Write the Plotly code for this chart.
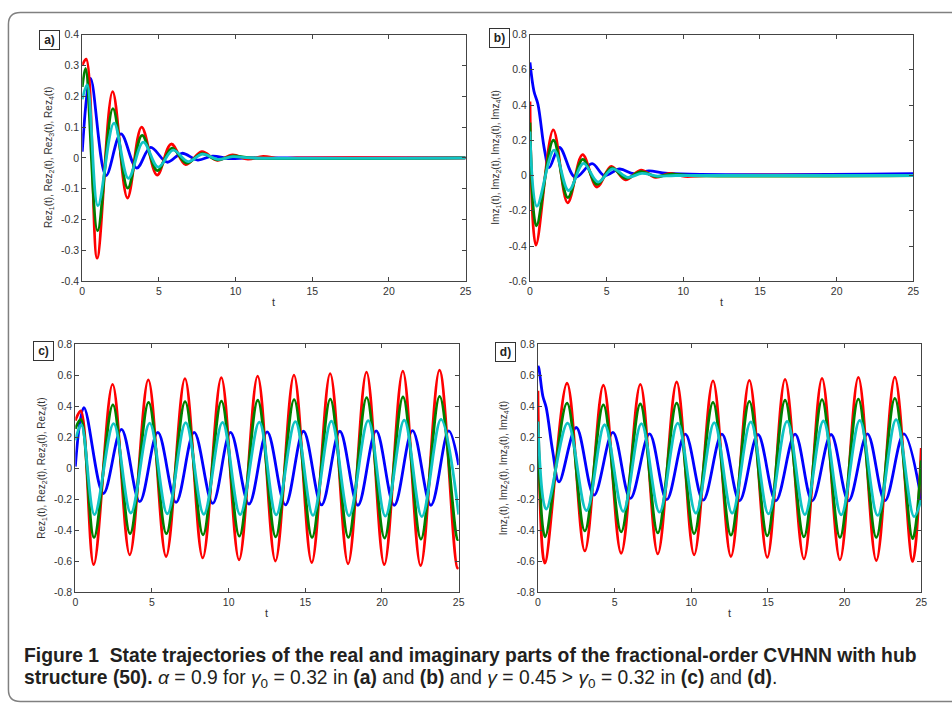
import plotly.graph_objects as go

W, H = 952, 713

# ---------------- data ----------------
# Panel a: Re z(t), gamma0 = 0.32
A_T_BLUE = [0, 0.54, 1.55, 2.52, 3.55, 4.46, 5.53, 6.5, 7.53, 8.5, 9.5, 11, 25]
A_BLUE = [0.02, 0.258, -0.057, 0.078, -0.033, 0.034, -0.014, 0.015, -0.007, 0.006, -0.002, 0, 0]
A_T_RED = [0, 0.26, 0.97, 1.98, 2.95, 3.87, 4.88, 5.8, 6.75, 7.8, 8.8, 9.8, 10.8, 11.8, 12.8, 14, 25]
A_RED = [0.30, 0.32, -0.325, 0.215, -0.13, 0.10, -0.056, 0.045, -0.022, 0.02, -0.008, 0.01, -0.004, 0.005, -0.002, 0, 0]
A_T_GREEN = [0, 0.22, 1.0, 2.0, 2.97, 3.9, 4.9, 5.85, 6.8, 7.8, 8.8, 9.8, 11, 25]
A_GREEN = [0.23, 0.29, -0.236, 0.16, -0.098, 0.073, -0.041, 0.032, -0.017, 0.014, -0.006, 0.006, 0, 0]
A_T_CYAN = [0, 0.32, 1.02, 2.07, 3.01, 3.98, 4.95, 5.92, 6.9, 7.85, 8.85, 9.8, 11, 25]
A_CYAN = [0.19, 0.237, -0.155, 0.113, -0.066, 0.051, -0.03, 0.025, -0.012, 0.012, -0.005, 0.004, 0, 0]

# Panel b: Im z(t), gamma0 = 0.32
B_T_BLUE = [0, 0.26, 0.52, 0.95, 1.25, 1.92, 2.95, 4.05, 4.85, 5.85, 6.77, 7.74, 9, 25]
B_BLUE = [0.642, 0.478, 0.404, 0.144, 0.045, 0.159, -0.01, 0.067, 0.0, 0.037, 0.01, 0.026, 0.012, 0.01]
B_T_RED = [0, 0.39, 1.52, 2.46, 3.43, 4.37, 5.3, 6.22, 7.24, 8.19, 9.14, 10.1, 11.5, 25]
B_RED = [0.42, -0.395, 0.259, -0.155, 0.118, -0.065, 0.052, -0.024, 0.03, -0.01, 0.012, -0.005, 0, 0]
B_T_GREEN = [0, 0.42, 1.53, 2.47, 3.44, 4.38, 5.32, 6.25, 7.25, 8.2, 9.2, 10.5, 25]
B_GREEN = [0.30, -0.285, 0.2, -0.125, 0.092, -0.05, 0.043, -0.016, 0.022, -0.006, 0.008, 0, 0]
B_T_CYAN = [0, 0.45, 1.57, 2.52, 3.49, 4.44, 5.39, 6.38, 7.3, 8.3, 9.5, 25]
B_CYAN = [0.25, -0.174, 0.144, -0.085, 0.069, -0.037, 0.038, -0.01, 0.012, -0.003, 0, 0]

# Panel c: Re z(t), gamma = 0.45
C_T_BLUE = [0, 0.56, 1.83, 3.01, 4.2, 5.38, 6.57, 7.75, 8.96, 10.12, 11.33, 12.51, 13.7,
            14.88, 16.06, 17.25, 18.43, 19.62, 20.8, 21.99, 23.19, 24.35, 25]
C_BLUE = [0.01, 0.39, -0.164, 0.25, -0.217, 0.23, -0.221, 0.23, -0.228, 0.23, -0.232, 0.234, -0.238,
          0.238, -0.238, 0.238, -0.24, 0.24, -0.24, 0.242, -0.24, 0.24, 0.02]
C_T_RED = [0, 0.36, 1.2, 2.43, 3.55, 4.76, 5.92, 7.15, 8.31, 9.52, 10.68, 11.89, 13.05, 14.26,
           15.42, 16.62, 17.79, 18.99, 20.15, 21.36, 22.52, 23.75, 24.92, 25]
C_RED = [0.307, 0.37, -0.624, 0.54, -0.56, 0.57, -0.571, 0.578, -0.58, 0.584, -0.592, 0.594, -0.60, 0.60,
         -0.61, 0.61, -0.618, 0.62, -0.624, 0.626, -0.63, 0.633, -0.645, -0.64]
C_T_GREEN = [0, 0.36, 1.22, 2.45, 3.57, 4.78, 5.94, 7.16, 8.33, 9.53, 10.7, 11.9, 13.07, 14.27,
             15.44, 16.63, 17.81, 19.0, 20.17, 21.37, 22.54, 23.76, 24.93, 25]
C_GREEN = [0.254, 0.315, -0.448, 0.408, -0.423, 0.425, -0.423, 0.429, -0.431, 0.433, -0.44, 0.438, -0.444, 0.442,
           -0.448, 0.446, -0.448, 0.455, -0.452, 0.459, -0.459, 0.463, -0.462, -0.46]
C_T_CYAN = [0, 0.39, 1.25, 2.5, 3.62, 4.85, 6.0, 7.2, 8.38, 9.6, 10.75, 12.0, 13.1, 14.35,
            15.5, 16.7, 17.85, 19.1, 20.22, 21.45, 22.6, 23.85, 25]
C_CYAN = [0.18, 0.28, -0.30, 0.287, -0.29, 0.29, -0.295, 0.293, -0.298, 0.295, -0.30, 0.297, -0.302, 0.30,
          -0.305, 0.303, -0.308, 0.306, -0.31, 0.31, -0.313, 0.315, -0.30]

# Panel d: Im z(t), gamma = 0.45
D_T_BLUE = [0, 0.06, 0.32, 0.54, 0.97, 1.38, 2.5, 3.66, 4.89, 6.03, 7.28, 8.4, 9.61, 10.78, 12.0,
            13.15, 14.35, 15.52, 16.77, 17.89, 19.12, 20.26, 21.49, 22.63, 23.86, 25]
D_BLUE = [0.66, 0.646, 0.466, 0.392, 0.106, -0.089, 0.262, -0.175, 0.23, -0.196, 0.221, -0.204, 0.219, -0.207, 0.219,
          -0.211, 0.217, -0.211, 0.219, -0.211, 0.217, -0.211, 0.221, -0.211, 0.221, -0.20]
D_T_RED = [0, 0.45, 1.9, 3.06, 4.27, 5.43, 6.68, 7.82, 9.05, 10.19, 11.42, 12.59, 13.79, 14.96,
           16.12, 17.35, 18.53, 19.7, 20.9, 22.07, 23.28, 24.44, 25]
D_RED = [0.5, -0.613, 0.548, -0.535, 0.535, -0.55, 0.54, -0.554, 0.556, -0.56, 0.563, -0.571, 0.567, -0.577,
         0.573, -0.586, 0.58, -0.592, 0.586, -0.597, 0.588, -0.603, 0.13]
D_T_GREEN = [0, 0.47, 1.9, 3.06, 4.27, 5.43, 6.68, 7.82, 9.05, 10.19, 11.42, 12.59, 13.79, 14.96,
             16.12, 17.35, 18.53, 19.7, 20.9, 22.07, 23.28, 24.44, 25]
D_GREEN = [0.30, -0.444, 0.419, -0.406, 0.408, -0.412, 0.414, -0.418, 0.419, -0.423, 0.425, -0.433, 0.431, -0.437,
           0.438, -0.444, 0.442, -0.448, 0.446, -0.448, 0.45, -0.455, 0.05]
D_T_CYAN = [0, 0.54, 1.94, 3.17, 4.35, 5.56, 6.75, 7.93, 9.12, 10.3, 11.5, 12.67, 13.88, 15.04,
            16.25, 17.41, 18.62, 19.78, 20.99, 22.16, 23.36, 24.53, 25]
D_CYAN = [0.30, -0.265, 0.291, -0.274, 0.28, -0.279, 0.287, -0.285, 0.291, -0.291, 0.293, -0.291, 0.298, -0.296,
          0.302, -0.30, 0.304, -0.302, 0.308, -0.306, 0.313, -0.313, -0.20]

X_TICKS = [0, 5, 10, 15, 20, 25]
X_TICK_TEXT = ["0", "5", "10", "15", "20", "25"]
Y_TICKS_A = [-0.4, -0.3, -0.2, -0.1, 0, 0.1, 0.2, 0.3, 0.4]
Y_TICK_TEXT_A = ["-0.4", "-0.3", "-0.2", "-0.1", "0", "0.1", "0.2", "0.3", "0.4"]
Y_TICKS_B = [-0.6, -0.4, -0.2, 0, 0.2, 0.4, 0.6, 0.8]
Y_TICK_TEXT_B = ["-0.6", "-0.4", "-0.2", "0", "0.2", "0.4", "0.6", "0.8"]
Y_TICKS_CD = [-0.8, -0.6, -0.4, -0.2, 0, 0.2, 0.4, 0.6, 0.8]
Y_TICK_TEXT_CD = ["-0.8", "-0.6", "-0.4", "-0.2", "0", "0.2", "0.4", "0.6", "0.8"]

PANEL_LABELS = ["a)", "b)", "c)", "d)"]
Y_TITLES = [
    "Rez<sub>1</sub>(t), Rez<sub>2</sub>(t), Rez<sub>3</sub>(t), Rez<sub>4</sub>(t)",
    "Imz<sub>1</sub>(t), Imz<sub>2</sub>(t), Imz<sub>3</sub>(t), Imz<sub>4</sub>(t)",
    "Rez<sub>1</sub>(t), Rez<sub>2</sub>(t), Rez<sub>3</sub>(t), Rez<sub>4</sub>(t)",
    "Imz<sub>1</sub>(t), Imz<sub>2</sub>(t), Imz<sub>3</sub>(t), Imz<sub>4</sub>(t)",
]
X_TITLE = "t"
CAPTION_1 = "<b>Figure 1\u00a0\u00a0State trajectories of the real and imaginary parts of the fractional-order CVHNN with hub</b>"
CAPTION_2 = ("<b>structure (50).</b> <i>\u03b1</i> = 0.9 for <i>\u03b3</i><sub>0</sub> = 0.32 in <b>(a)</b> and <b>(b)</b> "
             "and <i>\u03b3</i> = 0.45 &gt; <i>\u03b3</i><sub>0</sub> = 0.32 in <b>(c)</b> and <b>(d)</b>.")

# ---------------- layout helpers (pixel -> paper) ----------------
def fx(px):
    return px / W

def fy(py):
    return 1 - py / H

COLORS = {"blue": "#0000FF", "red": "#FF0000", "green": "#008000", "cyan": "#10C4C4"}

panels = [
    dict(box=(80, 467, 29, 280), yr=[-0.4, 0.4], yt=(Y_TICKS_A, Y_TICK_TEXT_A),
         series=[("blue", A_T_BLUE, A_BLUE), ("red", A_T_RED, A_RED), ("green", A_T_GREEN, A_GREEN), ("cyan", A_T_CYAN, A_CYAN)],
         label=(47, 34.5), ytitle=(47, 154), xtitle=(273.5, 301)),
    dict(box=(532, 919, 29, 280), yr=[-0.6, 0.8], yt=(Y_TICKS_B, Y_TICK_TEXT_B),
         series=[("blue", B_T_BLUE, B_BLUE), ("red", B_T_RED, B_RED), ("green", B_T_GREEN, B_GREEN), ("cyan", B_T_CYAN, B_CYAN)],
         label=(501.5, 33), ytitle=(498, 154), xtitle=(725.5, 301)),
    dict(box=(73, 460, 344, 596), yr=[-0.8, 0.8], yt=(Y_TICKS_CD, Y_TICK_TEXT_CD),
         series=[("blue", C_T_BLUE, C_BLUE), ("red", C_T_RED, C_RED), ("green", C_T_GREEN, C_GREEN), ("cyan", C_T_CYAN, C_CYAN)],
         label=(41, 351), ytitle=(39, 470), xtitle=(266.5, 617)),
    dict(box=(540, 927, 344, 596), yr=[-0.8, 0.8], yt=(Y_TICKS_CD, Y_TICK_TEXT_CD),
         series=[("blue", D_T_BLUE, D_BLUE), ("red", D_T_RED, D_RED), ("green", D_T_GREEN, D_GREEN), ("cyan", D_T_CYAN, D_CYAN)],
         label=(507, 351.5), ytitle=(506, 470), xtitle=(733.5, 617)),
]

fig = go.Figure()
layout = dict(width=W, height=H, margin=dict(l=0, r=0, t=0, b=0),
              paper_bgcolor="white", plot_bgcolor="white", showlegend=False)
annotations = []
TICKFONT = dict(family="Liberation Sans, Arial, sans-serif", size=10.5, color="#333333")

for i, p in enumerate(panels):
    n = "" if i == 0 else str(i + 1)
    x0, x1, y0, y1 = p["box"]
    for cname, tt, vv in p["series"]:
        fig.add_trace(go.Scatter(x=tt, y=vv, mode="lines", xaxis="x" + n, yaxis="y" + n,
                                 line=dict(color=COLORS[cname], width=2.8, shape="spline", smoothing=1.0),
                                 hoverinfo="skip"))
    common = dict(showline=True, linecolor="#444444", linewidth=1, mirror="ticks", ticks="inside",
                  ticklen=4, tickcolor="#444444", showgrid=False, zeroline=False, tickfont=TICKFONT)
    layout["xaxis" + n] = dict(domain=[fx(x0), fx(x1)], range=[0, 25], anchor="y" + n,
                               tickvals=X_TICKS, ticktext=X_TICK_TEXT, **common)
    layout["yaxis" + n] = dict(domain=[fy(y1), fy(y0)], range=p["yr"], anchor="x" + n,
                               tickvals=p["yt"][0], ticktext=p["yt"][1], **common)
    lx, ly = p["label"]
    annotations.append(dict(text="<b>" + PANEL_LABELS[i] + "</b>", x=fx(lx), y=fy(ly), xref="paper", yref="paper",
                            showarrow=False, xanchor="center", yanchor="middle",
                            font=dict(family="Liberation Sans, Arial", size=12, color="#222222"),
                            bordercolor="#333333", borderwidth=1, borderpad=1, width=17, height=16, bgcolor="white"))
    tx, ty = p["ytitle"]
    annotations.append(dict(text=Y_TITLES[i], x=fx(tx), y=fy(ty), xref="paper", yref="paper",
                            showarrow=False, textangle=-90, xanchor="center", yanchor="middle",
                            font=dict(family="Liberation Sans, Arial", size=10, color="#333333")))
    tx, ty = p["xtitle"]
    annotations.append(dict(text=X_TITLE, x=fx(tx), y=fy(ty), xref="paper", yref="paper",
                            showarrow=False, xanchor="center", yanchor="middle",
                            font=dict(family="Liberation Sans, Arial", size=11, color="#333333")))

CAPFONT = dict(family="Liberation Sans, Arial", size=19.3, color="#231f20")
annotations.append(dict(text=CAPTION_1, x=fx(19), y=fy(661), xref="paper", yref="paper", showarrow=False,
                        xanchor="left", yanchor="middle", font=CAPFONT))
annotations.append(dict(text=CAPTION_2, x=fx(19), y=fy(685), xref="paper", yref="paper", showarrow=False,
                        xanchor="left", yanchor="middle", font=CAPFONT))
layout["annotations"] = annotations

# rounded outer frame (right side runs off the canvas)
r = 12
L, T, B, R = fx(5.5), fy(6.5), fy(707.5), fx(960)
rx, ry = r / W, r / H
path = (f"M {R},{T} L {L + rx},{T} Q {L},{T} {L},{T - ry} L {L},{B + ry} "
        f"Q {L},{B} {L + rx},{B} L {R},{B}")
layout["shapes"] = [dict(type="path", path=path, xref="paper", yref="paper",
                         line=dict(color="#808080", width=1.5))]

fig.update_layout(**layout)
fig.write_html("out.html")
